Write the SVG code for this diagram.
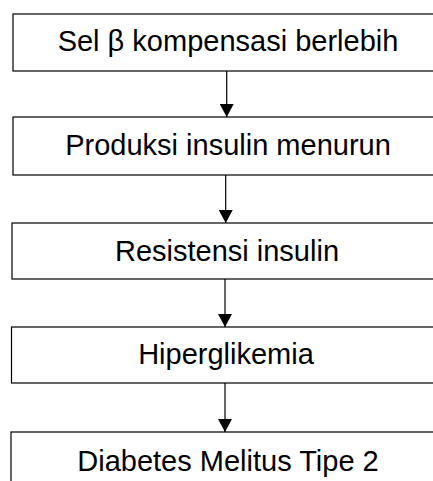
<svg xmlns="http://www.w3.org/2000/svg" width="433" height="481" viewBox="0 0 433 481">
<style>
.box{fill:#fff;stroke:#000;stroke-width:1.2}
.t{font-family:"Liberation Sans",Arial,sans-serif;font-size:29px;fill:#000;text-anchor:middle}
.c{stroke:#000;stroke-width:1.2;fill:none}
</style>
<defs>
<marker id="ah" markerWidth="13" markerHeight="14" refX="13" refY="7" orient="auto" markerUnits="userSpaceOnUse">
<path d="M0,0 L13,7 L0,14 Z" fill="#000"/>
</marker>
</defs>
<rect width="433" height="481" fill="#fff"/>
<g id="n1"><rect class="box" x="13" y="14" width="460" height="57"/><text class="t" x="228" y="51">Sel β kompensasi berlebih</text></g>
<g id="n2"><rect class="box" x="13" y="117" width="460" height="58"/><text class="t" x="228" y="155">Produksi insulin menurun</text></g>
<g id="n3"><rect class="box" x="12" y="223" width="460" height="56"/><text class="t" x="227" y="261">Resistensi insulin</text></g>
<g id="n4"><rect class="box" x="11.5" y="327" width="460" height="56"/><text class="t" x="226" y="363.5">Hiperglikemia</text></g>
<g id="n5"><rect class="box" x="11" y="432" width="460" height="60"/><text class="t" x="228" y="470.5">Diabetes Melitus Tipe 2</text></g>
<g id="connectors">
<line class="c" x1="226.7" y1="71" x2="226.7" y2="117" marker-end="url(#ah)"/>
<line class="c" x1="225.7" y1="175" x2="225.7" y2="223" marker-end="url(#ah)"/>
<line class="c" x1="225" y1="279" x2="225" y2="327" marker-end="url(#ah)"/>
<line class="c" x1="225" y1="383" x2="225" y2="432" marker-end="url(#ah)"/>
</g>
</svg>
